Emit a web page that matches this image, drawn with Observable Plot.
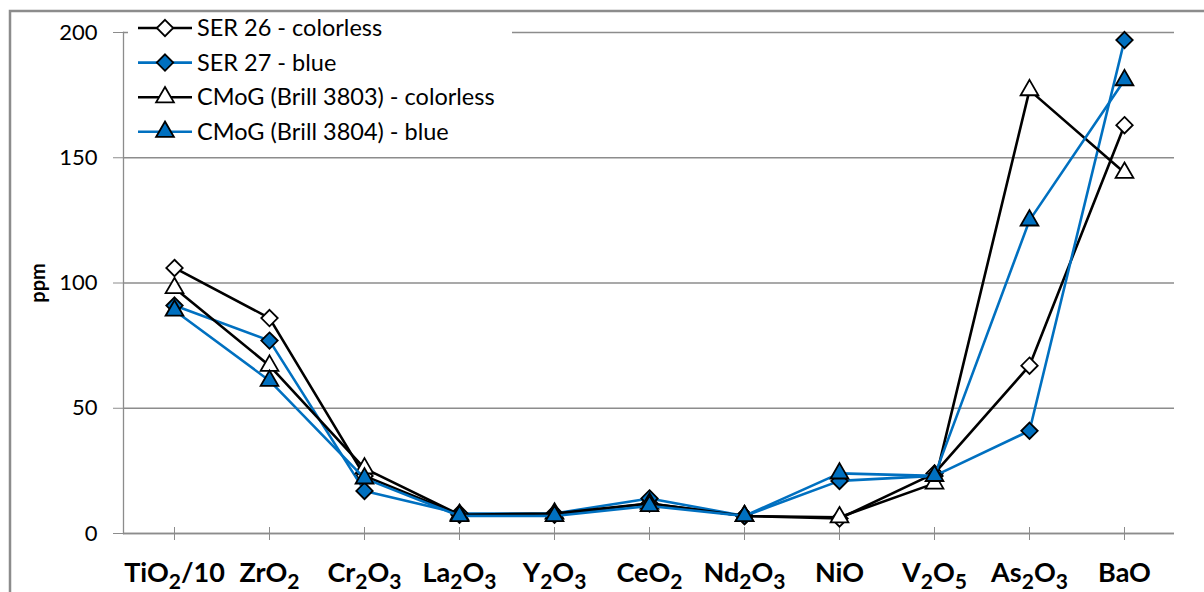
<!DOCTYPE html>
<html><head><meta charset="utf-8">
<script src="https://cdn.jsdelivr.net/npm/d3@7"></script>
<script src="https://cdn.jsdelivr.net/npm/@observablehq/plot@0.6"></script>
<style>
html,body{margin:0;padding:0;background:#fff;overflow:hidden}
#chart{position:relative;width:1204px;height:592px}
</style></head><body><div id="chart"></div>
<script>
const categories = ["TiO2/10","ZrO2","Cr2O3","La2O3","Y2O3","CeO2","Nd2O3","NiO","V2O5","As2O3","BaO"];
const ser26    = [106, 86, 23, 7.5, 7.5, 12, 7, 6, 24, 67, 163];
const ser27    = [91, 77, 17, 8, 8, 14, 7, 21, 23, 41, 197];
const cmog3803 = [98, 67, 26, 7.5, 8, 12, 7, 6.5, 20, 177, 144];
const cmog3804 = [89, 61, 22, 7, 7, 11, 7, 24, 23, 125, 181];
const seriesNames = ["SER 26 - colorless","SER 27 - blue","CMoG (Brill 3803) - colorless","CMoG (Brill 3804) - blue"];
const yTicks = [0, 50, 100, 150, 200];
const yLabel = "ppm";

const BLUE = "#0070C0";
const GRID = "#8c8c8c";
const styles = [
  {line: "#000", fill: "#fff", symbol: "diamond2", d3sym: d3.symbolDiamond2, r: 7.4},
  {line: BLUE,   fill: BLUE,   symbol: "diamond2", d3sym: d3.symbolDiamond2, r: 7.4},
  {line: "#000", fill: "#fff", symbol: "triangle", d3sym: d3.symbolTriangle, r: 6.6},
  {line: BLUE,   fill: BLUE,   symbol: "triangle", d3sym: d3.symbolTriangle, r: 6.6}
];
const allSeries = [ser26, ser27, cmog3803, cmog3804];

const marks = [
  Plot.gridY(yTicks, {stroke: GRID, strokeOpacity: 1, strokeWidth: 1.3}),
  Plot.frame({anchor: "left", stroke: GRID, strokeWidth: 1.3}),
  Plot.ruleY([0], {stroke: GRID, strokeWidth: 1.3}),
  Plot.axisY(yTicks, {tickSize: 10, tickPadding: 16, fontSize: 22, label: null, stroke: GRID, fill: "#000"}),
  Plot.axisX({tickSize: 13, dy: -6, tickFormat: () => "", label: null, stroke: GRID}),
  Plot.axisX({tickSize: 0, tickPadding: 29, fontSize: 27, fontWeight: "bold", label: null, fill: "#000"})
];
allSeries.forEach((vals, i) => {
  const rows = categories.map((c, j) => ({cat: c, v: vals[j]}));
  const s = styles[i];
  marks.push(Plot.line(rows, {x: "cat", y: "v", stroke: s.line, strokeWidth: 2.6}));
  marks.push(Plot.dot(rows, {x: "cat", y: "v", symbol: s.symbol, r: s.r, fill: s.fill, stroke: "#000", strokeWidth: 1.8}));
});

const svg = Plot.plot({
  width: 1204, height: 592,
  marginLeft: 123, marginRight: 30, marginTop: 32, marginBottom: 59,
  style: {fontFamily: "Lato, 'Open Sans', sans-serif", background: "#fff", overflow: "hidden"},
  x: {type: "point", domain: categories, padding: 0.5, align: 0.5},
  y: {domain: [0, 200]},
  marks
});

const root = d3.select(svg);
// subscripts in x tick labels
root.selectAll('g[aria-label="x-axis tick label"] text').each(function() {
  const t = this.textContent;
  if (!t) return;
  const el = d3.select(this);
  el.text(null);
  let shift = 0;
  let buf = "", bufSub = false;
  const flush = () => {
    if (!buf) return;
    const want = bufSub ? 7 : 0;
    const ts = el.append("tspan").text(buf);
    if (want !== shift) { ts.attr("dy", want - shift); shift = want; }
    if (bufSub) ts.attr("font-size", "78%");
    buf = "";
  };
  for (let i = 0; i < t.length; i++) {
    const c = t[i];
    const sub = /\d/.test(c) && i > 0 && /[A-Za-z]/.test(t[i - 1]);
    if (sub !== bufSub) { flush(); bufSub = sub; }
    buf += c;
  }
  flush();
});

// y label
root.append("text").attr("transform", "translate(38,283) rotate(-90)")
  .attr("text-anchor", "middle").attr("dy", "0.35em")
  .attr("font-size", 20).attr("font-weight", "bold").attr("fill", "#000").text(yLabel);

// legend
const lg = root.append("g").attr("font-size", 23.5).attr("fill", "#000").attr("text-anchor", "start");
lg.append("rect").attr("x", 128).attr("y", 13).attr("width", 384).attr("height", 137).attr("fill", "#fff");
seriesNames.forEach((name, i) => {
  const s = styles[i];
  const y = 28 + i * 34.6;
  lg.append("line").attr("x1", 138).attr("x2", 192).attr("y1", y).attr("y2", y)
    .attr("stroke", s.line).attr("stroke-width", 2.6);
  lg.append("path").attr("d", d3.symbol(s.d3sym, Math.PI * s.r * s.r)())
    .attr("transform", `translate(165,${y})`).attr("fill", s.fill).attr("stroke", "#000").attr("stroke-width", 1.8);
  lg.append("text").attr("x", 197).attr("y", y).attr("dy", "0.35em").attr("text-anchor", "start").text(name);
});

// chart border
root.append("rect").attr("x", 10).attr("y", 11).attr("width", 1204).attr("height", 600)
  .attr("fill", "none").attr("stroke", GRID).attr("stroke-width", 2.5);

document.getElementById("chart").appendChild(svg);
</script></body></html>
